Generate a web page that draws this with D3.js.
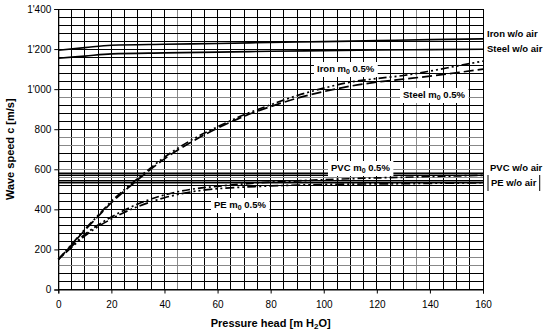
<!DOCTYPE html>
<html>
<head>
<meta charset="utf-8">
<script src="https://cdn.jsdelivr.net/npm/d3@7"></script>
<style>
  body { margin: 0; background: #fff; }
  text { font-family: "Liberation Sans", Arial, sans-serif; }
</style>
</head>
<body>
<script>
// pressure head samples [m H2O]
const head = [0, 5, 10, 15, 20, 25, 30, 40, 50, 60, 70, 80, 90, 100, 110, 120, 130, 140, 150, 160];

// wave speeds [m/s] with 0.5% air content
const ironAir  = [150, 225, 300, 370, 440, 500, 555, 660, 745, 812, 872, 922, 968, 1005, 1035, 1053, 1068, 1090, 1115, 1140];
const steelAir = [150, 222, 296, 365, 433, 493, 548, 652, 735, 805, 865, 913, 955, 988, 1015, 1035, 1050, 1065, 1082, 1100];
const pvcAir   = [150, 215, 275, 322, 362, 397, 427, 472, 500, 515, 527, 536, 542, 548, 553, 557, 560, 564, 567, 570];
const peAir    = [150, 210, 268, 314, 352, 386, 414, 458, 487, 503, 511, 517, 521, 524, 526, 527, 528, 530, 531, 533];

// wave speeds without air
const woHead  = [0, 10, 20, 40, 60, 80, 100, 120, 140, 160];
const ironWo  = [1194, 1207, 1219, 1224, 1228, 1233, 1237, 1242, 1247, 1251];
const steelWo = [1154, 1165, 1176, 1181, 1185, 1189, 1192, 1195, 1197, 1199];
const pvcWo   = [[0, 580], [160, 580], [0, 570], [160, 570]];
const peWo    = [[0, 543], [160, 543], [0, 533], [160, 533]];

const yTicks = [0, 200, 400, 600, 800, 1000, 1200, 1400];
const xTicks = [0, 20, 40, 60, 80, 100, 120, 140, 160];

const width = 547, height = 332;
const x0 = 58.3, x1 = 483, y0 = 289.5, y1 = 9;

const svg = d3.select('body').append('svg')
  .attr('width', width).attr('height', height);

const x = d3.scaleLinear().domain([0, 160]).range([x0, x1]);
const y = d3.scaleLinear().domain([0, 1400]).range([y0, y1]);

// grid
const grayX = [45, 135];
const grayY = [120, 160, 560, 600, 720, 760, 960];
svg.append('g').selectAll('line')
  .data(d3.range(0, 161, 5))
  .enter().append('line')
  .attr('x1', d => x(d)).attr('x2', d => x(d))
  .attr('y1', y(0)).attr('y2', y(1400))
  .attr('stroke', d => grayX.includes(d) ? '#888' : '#000')
  .attr('stroke-width', 1)
  .attr('shape-rendering', 'crispEdges');
svg.append('g').selectAll('line')
  .data(d3.range(0, 1401, 40))
  .enter().append('line')
  .attr('x1', x(0)).attr('x2', x(160))
  .attr('y1', d => y(d)).attr('y2', d => y(d))
  .attr('stroke', d => grayY.includes(d) ? '#888' : '#000')
  .attr('stroke-width', 1)
  .attr('shape-rendering', 'crispEdges');

// axes
const yAxis = d3.axisLeft(y).tickValues(yTicks).tickSize(4).tickPadding(3)
  .tickFormat(d => d >= 1000 ? Math.floor(d / 1000) + "'" + String(d % 1000).padStart(3, '0') : d);
const gy = svg.append('g').attr('transform', `translate(${x0},0)`).call(yAxis);
const xAxis = d3.axisBottom(x).tickValues(xTicks).tickSize(4).tickPadding(7);
const gx = svg.append('g').attr('transform', `translate(0,${y0})`).call(xAxis);
[gx, gy].forEach(g => {
  g.select('.domain').attr('stroke', '#000');
  g.selectAll('.tick line').attr('stroke', '#000');
  g.selectAll('text').attr('font-size', 10).attr('fill', '#000')
    .attr('font-family', '"Liberation Sans", Arial, sans-serif');
});

// curves
const line = d3.line().x(d => x(d[0])).y(d => y(d[1])).curve(d3.curveMonotoneX);
function drawSeries(hs, vals, dash, w) {
  svg.append('path')
    .datum(hs.map((h, i) => [h, vals[i]]))
    .attr('d', line)
    .attr('fill', 'none')
    .attr('stroke', '#000')
    .attr('stroke-width', w)
    .attr('stroke-dasharray', dash);
}
drawSeries(woHead, ironWo, null, 1.6);
drawSeries(woHead, steelWo, null, 1.6);
[pvcWo, peWo].forEach(pts => {
  for (let i = 0; i < pts.length; i += 2) {
    svg.append('line')
      .attr('x1', x(pts[i][0])).attr('x2', x(pts[i + 1][0]))
      .attr('y1', y(pts[i][1])).attr('y2', y(pts[i + 1][1]))
      .attr('stroke', '#000').attr('stroke-width', 1.4);
  }
});
drawSeries(head, ironAir, '8,3,2,3,2,3', 1.7);
drawSeries(head, steelAir, '10,4', 1.7);
drawSeries(head, pvcAir, '8,3,2,3', 1.7);
drawSeries(head, peAir, '2,3,2,3,9,3', 1.7);

// labels
function label(tx, ty, main, sub, rest, box, sides) {
  const g = svg.append('g');
  const t = g.append('text').attr('x', tx).attr('y', ty)
    .attr('font-size', 9.5).attr('font-weight', 'bold').attr('fill', '#000');
  t.append('tspan').text(main);
  if (sub) {
    t.append('tspan').attr('font-size', 7).attr('dy', 2).text(sub);
    t.append('tspan').attr('dy', -2).text(rest);
  }
  if (box) {
    const bb = t.node().getBBox();
    g.insert('rect', 'text')
      .attr('x', bb.x - 3).attr('y', bb.y - 1)
      .attr('width', bb.width + 6).attr('height', bb.height + 3)
      .attr('fill', '#fff');
    if (sides) {
      [bb.x - 3, bb.x + bb.width + 3].forEach(sx => {
        g.append('line').attr('x1', sx).attr('x2', sx)
          .attr('y1', bb.y - 2).attr('y2', bb.y + bb.height + 3)
          .attr('stroke', '#000').attr('stroke-width', 1);
      });
    }
  }
}
label(317, 72, 'Iron m', '0', ' 0.5%', true);
label(403, 98, 'Steel m', '0', ' 0.5%', true);
label(331, 171, 'PVC m', '0', ' 0.5%', true);
label(214, 208, 'PE m', '0', ' 0.5%', true);
label(487, 37, 'Iron w/o air', null, null, false);
label(487, 52, 'Steel w/o air', null, null, false);
label(490, 171, 'PVC w/o air', null, null, false);
label(491, 186, 'PE w/o air', null, null, true, true);

// axis titles
svg.append('text')
  .attr('transform', `translate(14,${(y0 + y1) / 2}) rotate(-90)`)
  .attr('text-anchor', 'middle')
  .attr('font-size', 11).attr('font-weight', 'bold')
  .text('Wave speed c [m/s]');
const xt = svg.append('text')
  .attr('x', (x0 + x1) / 2).attr('y', 327)
  .attr('text-anchor', 'middle')
  .attr('font-size', 11).attr('font-weight', 'bold');
xt.append('tspan').text('Pressure head [m H');
xt.append('tspan').attr('font-size', 8).attr('dy', 2).text('2');
xt.append('tspan').attr('dy', -2).text('O]');
</script>
</body>
</html>
